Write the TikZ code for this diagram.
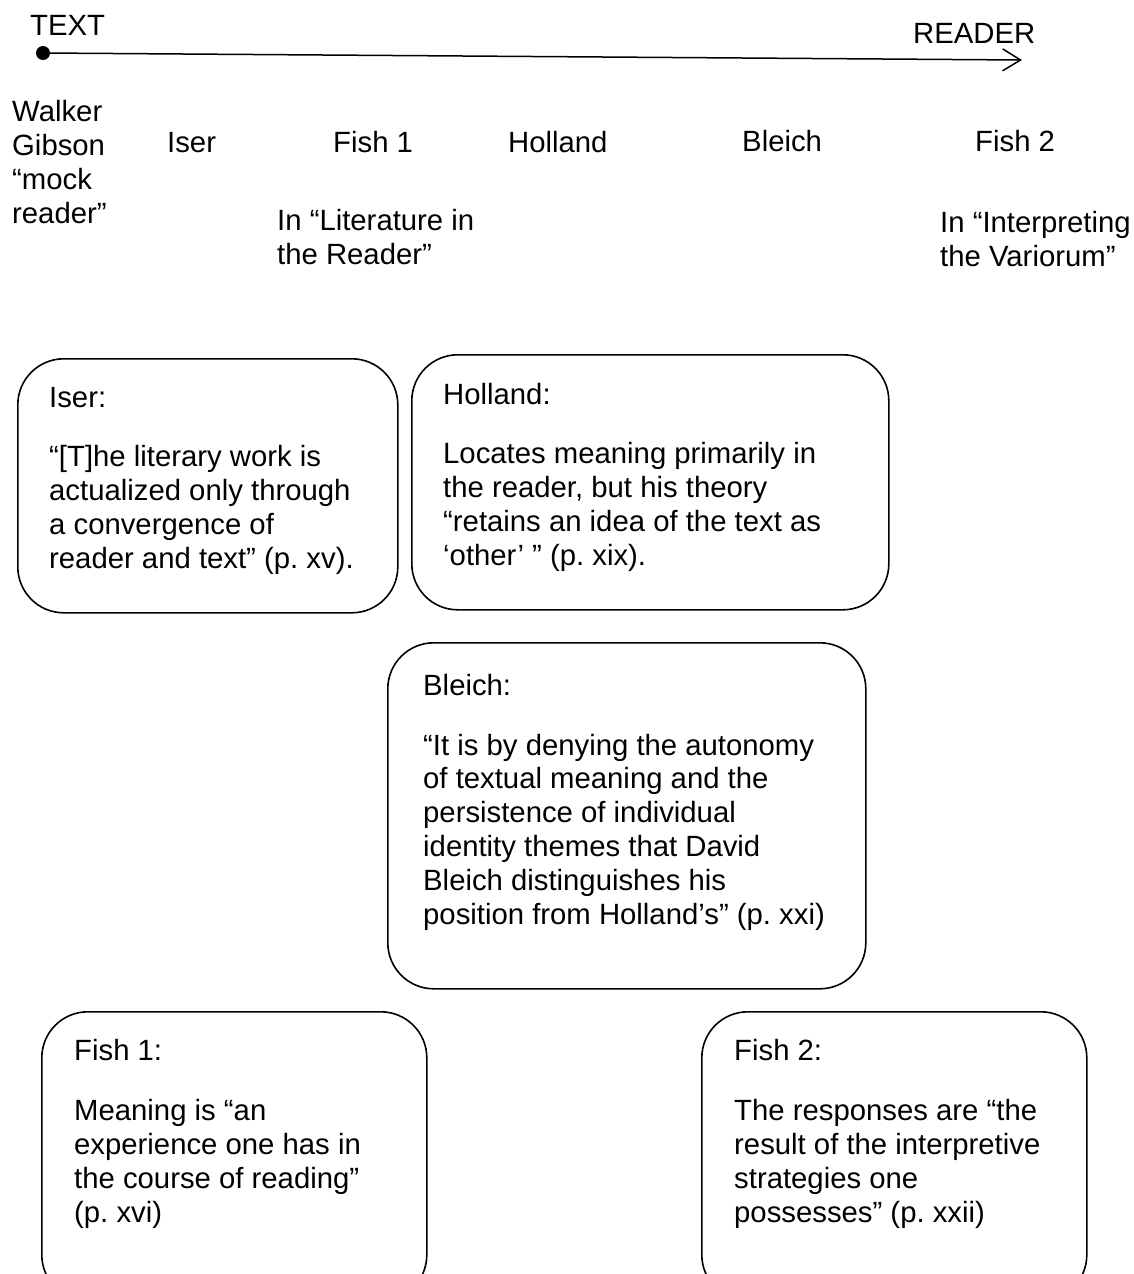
\documentclass[tikz,border=0pt]{standalone}
\usepackage{fontspec}
\setmainfont{Liberation Sans}
\usetikzlibrary{arrows.meta}
\newcommand\bodyfs{\fontsize{29.3}{33.8}\selectfont}
\frenchspacing
\begin{document}
\begin{tikzpicture}[x=1pt,y=-1pt,
  lbl/.style={anchor=base west, inner sep=0pt, align=left, font=\bodyfs},
  card/.style={draw, line width=1.6pt, rounded corners=46pt, inner sep=0pt, anchor=north west},
  axis/.style={line width=1.5pt, -{Straight Barb[length=18pt,width=22pt,line width=1.5pt]}}]
\clip (0,0) rectangle (1133,1274);
\useasboundingbox (0,0) rectangle (1133,1274);

% text-to-reader axis (multi-line labels are placed by the baseline of their last line)
\node[lbl] (textlbl) at (30,35) {TEXT};
\node[lbl] (readerlbl) at (913,43) {READER};
\node[circle, fill, inner sep=0pt, minimum size=14pt] (dot) at (43,53) {};
\coordinate (tip) at (1022,60);
\draw[axis] (dot.center) -- (tip);

% critics along the axis
\node[lbl] (gibson) at (12,223) {Walker\\Gibson\\“mock\\reader”};
\node[lbl] (iserlbl) at (167,152) {Iser};
\node[lbl] (fishonelbl) at (333,152) {Fish 1};
\node[lbl] (hollandlbl) at (508,152) {Holland};
\node[lbl] (bleichlbl) at (742,151) {Bleich};
\node[lbl] (fishtwolbl) at (975,151) {Fish 2};
\node[lbl] (litsrc) at (277,264) {In “Literature in\\the Reader”};
\node[lbl] (varsrc) at (940,266) {In “Interpreting\\the Variorum”};

% quotation cards
\node[card, minimum width=380pt, minimum height=254pt] (iserbox) at (17,358) {};
\node[lbl] (isertxt) at (49,568) {Iser:\\[25.2pt]“[T]he literary work is\\actualized only through\\a convergence of\\reader and text” (p. xv).};

\node[card, minimum width=477pt, minimum height=255pt] (hollandbox) at (411,354) {};
\node[lbl] (hollandtxt) at (443,565) {Holland:\\[25.2pt]Locates meaning primarily in\\the reader, but his theory\\“retains an idea of the text as\\‘other’ ” (p. xix).};

\node[card, minimum width=478pt, minimum height=346pt] (bleichbox) at (387,642) {};
\node[lbl] (bleichtxt) at (423,924) {Bleich:\\[26.2pt]“It is by denying the autonomy\\of textual meaning and the\\persistence of individual\\identity themes that David\\Bleich distinguishes his\\position from Holland’s” (p. xxi)};

\node[card, minimum width=385pt, minimum height=289pt] (fishonebox) at (41,1011) {};
\node[lbl] (fishonetxt) at (74,1222) {Fish 1:\\[26.2pt]Meaning is “an\\experience one has in\\the course of reading”\\(p. xvi)};

\node[card, minimum width=385pt, minimum height=289pt] (fishtwobox) at (701,1011) {};
\node[lbl] (fishtwotxt) at (734,1222) {Fish 2:\\[26.2pt]The responses are “the\\result of the interpretive\\strategies one\\possesses” (p. xxii)};
\end{tikzpicture}
\end{document}
